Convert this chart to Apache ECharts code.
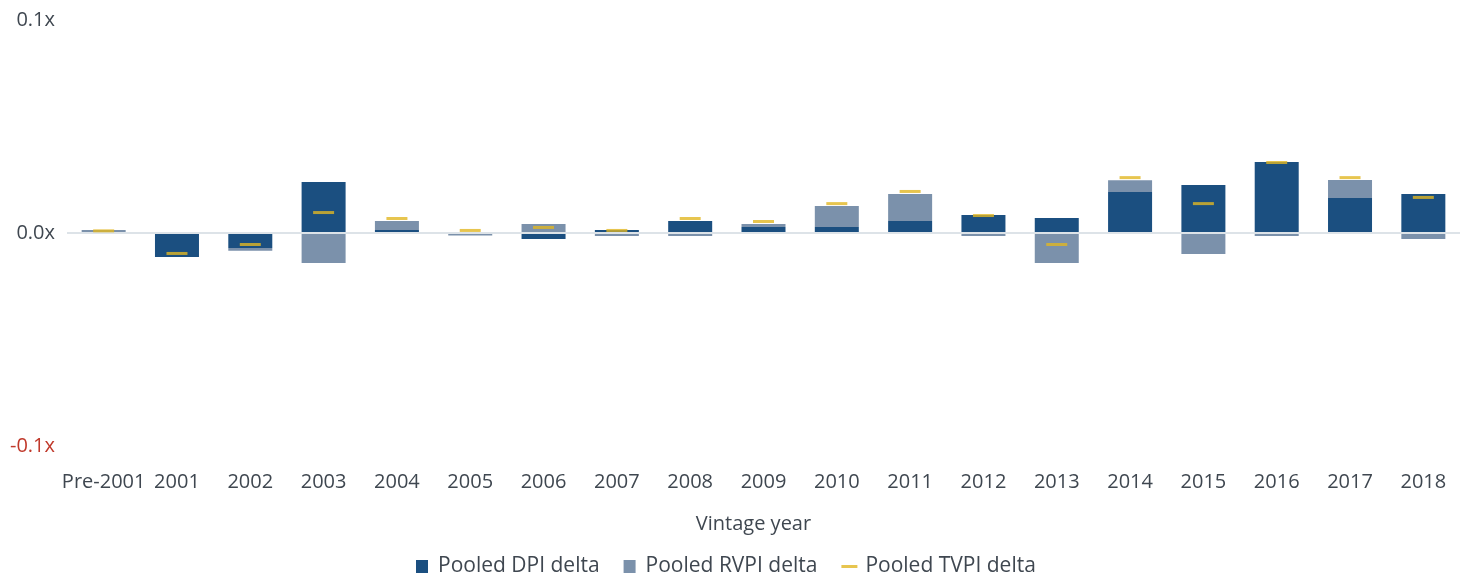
<!DOCTYPE html>
<html>
<head>
<meta charset="utf-8">
<script src="https://cdn.jsdelivr.net/npm/echarts@6/dist/echarts.min.js"></script>
<style>
  html, body { margin: 0; padding: 0; background: #fff; }
  #chart { width: 1465px; height: 577px; }
</style>
</head>
<body>
<div id="chart"></div>
<script>
const categories = ['Pre-2001', '2001', '2002', '2003', '2004', '2005', '2006', '2007', '2008', '2009',
  '2010', '2011', '2012', '2013', '2014', '2015', '2016', '2017', '2018']
const dpiDelta = [0.0002, -0.0113, -0.0070, 0.0239, 0.0014, 0.0004, -0.0028, 0.0014, 0.0056, 0.0028,
  0.0028, 0.0056, 0.0085, 0.0070, 0.0192, 0.0225, 0.0333, 0.0164, 0.0183]
const rvpiDelta = [0.0012, 0, -0.0013, -0.0141, 0.0042, -0.0012, 0.0042, -0.0014, -0.0014, 0.0014,
  0.0099, 0.0127, -0.0014, -0.0141, 0.0056, -0.0099, -0.0014, 0.0085, -0.0028]
const tvpiDelta = [0.0010, -0.0096, -0.0054, 0.0096, 0.0068, 0.0012, 0.0026, 0.0012, 0.0068, 0.0054,
  0.0138, 0.0195, 0.0082, -0.0054, 0.0260, 0.0138, 0.0331, 0.0260, 0.0167]
const yTicks = { min: -0.1, max: 0.1, interval: 0.1 }

const textColor = '#3f4750'
const fontFamily = '"Open Sans", "Noto Sans", sans-serif'

const chart = echarts.init(document.getElementById('chart'))

const option = {
  animation: false,
  grid: { left: 67, right: 5, top: 20, bottom: 131 },
  legend: {
    top: 551,
    left: 411,
    itemGap: 24,
    itemWidth: 16,
    itemHeight: 13,
    textStyle: { color: textColor, fontSize: 21, fontFamily: fontFamily, padding: [0, 0, 0, 3] },
    data: [
      { name: 'Pooled DPI delta', icon: 'path://M2,0 L14,0 L14,13 L2,13 Z' },
      { name: 'Pooled RVPI delta', icon: 'path://M2,0 L14,0 L14,13 L2,13 Z' },
      { name: 'Pooled TVPI delta', icon: 'path://M0,0 L16,0 L16,3 L0,3 Z' }
    ]
  },
  xAxis: {
    type: 'category',
    data: categories,
    position: 'bottom',
    axisLine: { show: false },
    axisTick: { show: false },
    axisLabel: { color: textColor, fontSize: 20, fontFamily: fontFamily, margin: 26, interval: 0 },
    name: 'Vintage year',
    nameLocation: 'middle',
    nameGap: 68,
    nameTextStyle: { color: textColor, fontSize: 20, fontFamily: fontFamily, padding: [0, 20, 0, 0] }
  },
  yAxis: {
    type: 'value',
    min: yTicks.min,
    max: yTicks.max,
    interval: yTicks.interval,
    axisLine: { show: false },
    axisTick: { show: false },
    splitLine: { show: false },
    axisLabel: {
      fontSize: 20,
      fontFamily: fontFamily,
      margin: 12,
      color: function (v) { return v < 0 ? '#c0392b' : textColor },
      formatter: function (v) { return v.toFixed(1) + 'x' }
    }
  },
  series: [
    {
      name: 'Pooled DPI delta',
      type: 'bar',
      stack: 'delta',
      barWidth: 44,
      data: dpiDelta,
      itemStyle: { color: '#1b4f80' }
    },
    {
      name: 'Pooled RVPI delta',
      type: 'bar',
      stack: 'delta',
      barWidth: 44,
      data: rvpiDelta,
      itemStyle: { color: '#7b91ab' }
    },
    {
      name: 'Pooled TVPI delta',
      type: 'scatter',
      symbol: 'rect',
      symbolSize: [21, 3],
      z: 5,
      data: tvpiDelta,
      itemStyle: { color: '#e1b623' },
      markLine: {
        silent: true,
        symbol: 'none',
        label: { show: false },
        lineStyle: { color: '#dde3e8', width: 2, type: 'solid' },
        data: [{ yAxis: 0 }]
      }
    }
  ]
}

chart.setOption(option)
</script>
</body>
</html>
